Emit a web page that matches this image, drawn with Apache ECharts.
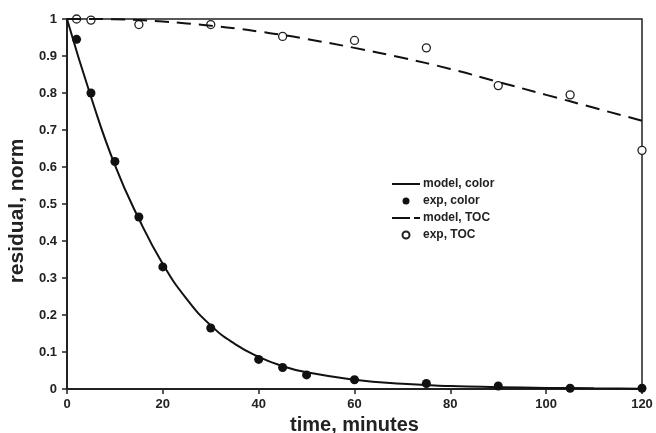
<!DOCTYPE html>
<html>
<head>
<meta charset="utf-8">
<script src="https://cdn.jsdelivr.net/npm/echarts@6/dist/echarts.min.js"></script>
<style>
  html, body { margin: 0; padding: 0; background: #fff; }
  #chart { width: 656px; height: 433px; }
</style>
</head>
<body>
<div id="chart"></div>
<script>
// data
var expTime = [2, 5, 10, 15, 20, 30, 40, 45, 50, 60, 75, 90, 105, 120];
var expColor = [0.945, 0.80, 0.615, 0.465, 0.33, 0.165, 0.08, 0.058, 0.038, 0.025, 0.015, 0.008, 0.002, 0.002];

var tocTime = [2, 5, 15, 30, 45, 60, 75, 90, 105, 120];
var expToc = [1.0, 0.997, 0.985, 0.985, 0.953, 0.942, 0.922, 0.82, 0.795, 0.645];

var modelTime = [0, 5, 10, 15, 20, 25, 30, 35, 40, 45, 50, 60, 70, 80, 90, 100, 110, 120];
var modelColor = [1.0, 0.79, 0.605, 0.46, 0.338, 0.243, 0.172, 0.122, 0.087, 0.062, 0.045, 0.025, 0.014, 0.008, 0.005, 0.003, 0.002, 0.001];
var modelToc = [1.0, 1.0, 0.999, 0.997, 0.993, 0.988, 0.982, 0.975, 0.966, 0.957, 0.946, 0.922, 0.895, 0.865, 0.83, 0.795, 0.76, 0.725];

function pairs(xs, ys) {
  return xs.map(function (x, i) { return [x, ys[i]]; });
}

// legend line icons (tiny corner dots keep the box 28x7 so the bar isn't stretched)
var solidIcon = 'path://M0,0L0.01,0L0.01,0.01Z M0,2.5L28,2.5L28,4.5L0,4.5Z M28,7L27.99,7L27.99,6.99Z';
var dashIcon = 'path://M0,0L0.01,0L0.01,0.01Z M0,2.5L18,2.5L18,4.5L0,4.5Z M22,2.5L28,2.5L28,4.5L22,4.5Z M28,7L27.99,7L27.99,6.99Z';

var chart = echarts.init(document.getElementById('chart'));

var labelFont = { fontFamily: 'Liberation Sans, Arial', fontWeight: 'bold', fontSize: 13, color: '#222' };

chart.setOption({
  animation: false,
  backgroundColor: '#fff',
  grid: {
    left: 67, right: 14, top: 19, bottom: 44,
    outerBoundsMode: 'none',
    show: true, borderColor: '#222', borderWidth: 1.5
  },
  legend: {
    orient: 'vertical',
    left: 387,
    top: 173,
    itemWidth: 28,
    itemHeight: 7,
    itemGap: 5,
    textStyle: { fontFamily: 'Liberation Sans, Arial', fontWeight: 'bold', fontSize: 12, color: '#222', padding: [0, 0, 0, -2] },
    data: [
      { name: 'model, color', icon: solidIcon },
      'exp, color',
      { name: 'model, TOC', icon: dashIcon },
      'exp, TOC'
    ]
  },
  xAxis: {
    type: 'value',
    min: 0, max: 120, interval: 20,
    name: 'time, minutes',
    nameLocation: 'middle',
    nameGap: 24,
    nameTextStyle: { fontFamily: 'Liberation Sans, Arial', fontWeight: 'bold', fontSize: 20, color: '#222' },
    axisLine: { lineStyle: { color: '#222', width: 2 } },
    axisTick: { length: 5, lineStyle: { color: '#222', width: 1.5 } },
    axisLabel: Object.assign({ margin: 9 }, labelFont),
    splitLine: { show: false }
  },
  yAxis: {
    type: 'value',
    min: 0, max: 1, interval: 0.1,
    name: 'residual, norm',
    nameLocation: 'middle',
    nameGap: 39,
    nameTextStyle: { fontFamily: 'Liberation Sans, Arial', fontWeight: 'bold', fontSize: 21, color: '#222', padding: [0, 14, 0, 0] },
    axisLine: { lineStyle: { color: '#222', width: 2 } },
    axisTick: { length: 5, lineStyle: { color: '#222', width: 1.5 } },
    axisLabel: Object.assign({ margin: 10 }, labelFont),
    splitLine: { show: false }
  },
  series: [
    {
      name: 'model, color',
      type: 'line',
      smooth: true,
      showSymbol: false,
      symbol: 'none',
      lineStyle: { color: '#111', width: 2 },
      itemStyle: { color: '#111' },
      data: pairs(modelTime, modelColor)
    },
    {
      name: 'exp, color',
      type: 'scatter',
      symbol: 'circle',
      symbolSize: 9,
      itemStyle: { color: '#111', opacity: 1 },
      data: pairs(expTime, expColor)
    },
    {
      name: 'model, TOC',
      type: 'line',
      smooth: true,
      showSymbol: false,
      symbol: 'none',
      lineStyle: { color: '#111', width: 2, type: [14, 8] },
      itemStyle: { color: '#111' },
      data: pairs(modelTime, modelToc)
    },
    {
      name: 'exp, TOC',
      type: 'scatter',
      symbol: 'circle',
      symbolSize: 8,
      itemStyle: { color: '#fff', borderColor: '#222', borderWidth: 1.3, opacity: 1 },
      data: pairs(tocTime, expToc)
    }
  ]
});
</script>
</body>
</html>
